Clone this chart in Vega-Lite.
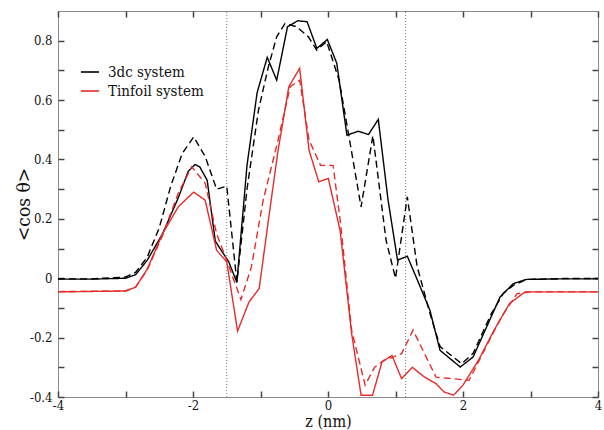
{
  "$schema": "https://vega.github.io/schema/vega-lite/v6.json",
  "width": 540,
  "height": 386,
  "autosize": "none",
  "padding": {"left": 58, "top": 11, "right": 6, "bottom": 33},
  "background": "white",
  "config": {
    "view": {"stroke": "#8a8a8a", "strokeWidth": 1},
    "font": "DejaVu Serif Condensed",
    "axis": {
      "labelFont": "DejaVu Serif Condensed",
      "titleFont": "DejaVu Serif Condensed",
      "labelFontSize": 13,
      "titleFontSize": 16,
      "titleFontWeight": "normal",
      "labelColor": "#111",
      "titleColor": "#111",
      "domain": false,
      "grid": false,
      "tickColor": "#444444",
      "tickWidth": 1.5,
      "tickSize": -6
    }
  },
  "datasets": {
    "lines": [
      {"z": -4.0, "v": -0.003, "sys": "3dc system", "kind": "solid"},
      {"z": -3.5, "v": -0.003, "sys": "3dc system", "kind": "solid"},
      {"z": -3.0, "v": 0.0, "sys": "3dc system", "kind": "solid"},
      {"z": -2.85, "v": 0.012, "sys": "3dc system", "kind": "solid"},
      {"z": -2.68, "v": 0.06, "sys": "3dc system", "kind": "solid"},
      {"z": -2.45, "v": 0.15, "sys": "3dc system", "kind": "solid"},
      {"z": -2.22, "v": 0.27, "sys": "3dc system", "kind": "solid"},
      {"z": -2.07, "v": 0.36, "sys": "3dc system", "kind": "solid"},
      {"z": -1.97, "v": 0.383, "sys": "3dc system", "kind": "solid"},
      {"z": -1.9, "v": 0.375, "sys": "3dc system", "kind": "solid"},
      {"z": -1.79, "v": 0.33, "sys": "3dc system", "kind": "solid"},
      {"z": -1.67, "v": 0.125, "sys": "3dc system", "kind": "solid"},
      {"z": -1.47, "v": 0.055, "sys": "3dc system", "kind": "solid"},
      {"z": -1.35, "v": -0.014, "sys": "3dc system", "kind": "solid"},
      {"z": -1.2, "v": 0.38, "sys": "3dc system", "kind": "solid"},
      {"z": -1.05, "v": 0.625, "sys": "3dc system", "kind": "solid"},
      {"z": -0.9, "v": 0.744, "sys": "3dc system", "kind": "solid"},
      {"z": -0.76, "v": 0.667, "sys": "3dc system", "kind": "solid"},
      {"z": -0.6, "v": 0.847, "sys": "3dc system", "kind": "solid"},
      {"z": -0.45, "v": 0.867, "sys": "3dc system", "kind": "solid"},
      {"z": -0.31, "v": 0.864, "sys": "3dc system", "kind": "solid"},
      {"z": -0.165, "v": 0.774, "sys": "3dc system", "kind": "solid"},
      {"z": -0.01, "v": 0.804, "sys": "3dc system", "kind": "solid"},
      {"z": 0.13, "v": 0.724, "sys": "3dc system", "kind": "solid"},
      {"z": 0.28, "v": 0.482, "sys": "3dc system", "kind": "solid"},
      {"z": 0.45, "v": 0.495, "sys": "3dc system", "kind": "solid"},
      {"z": 0.6, "v": 0.484, "sys": "3dc system", "kind": "solid"},
      {"z": 0.745, "v": 0.535, "sys": "3dc system", "kind": "solid"},
      {"z": 0.89, "v": 0.263, "sys": "3dc system", "kind": "solid"},
      {"z": 1.03, "v": 0.061, "sys": "3dc system", "kind": "solid"},
      {"z": 1.175, "v": 0.074, "sys": "3dc system", "kind": "solid"},
      {"z": 1.35, "v": -0.02, "sys": "3dc system", "kind": "solid"},
      {"z": 1.51, "v": -0.108, "sys": "3dc system", "kind": "solid"},
      {"z": 1.66, "v": -0.243, "sys": "3dc system", "kind": "solid"},
      {"z": 1.96, "v": -0.299, "sys": "3dc system", "kind": "solid"},
      {"z": 2.15, "v": -0.265, "sys": "3dc system", "kind": "solid"},
      {"z": 2.35, "v": -0.164, "sys": "3dc system", "kind": "solid"},
      {"z": 2.55, "v": -0.063, "sys": "3dc system", "kind": "solid"},
      {"z": 2.745, "v": -0.018, "sys": "3dc system", "kind": "solid"},
      {"z": 2.94, "v": -0.004, "sys": "3dc system", "kind": "solid"},
      {"z": 3.5, "v": -0.002, "sys": "3dc system", "kind": "solid"},
      {"z": 4.0, "v": -0.002, "sys": "3dc system", "kind": "solid"},

      {"z": -4.0, "v": -0.002, "sys": "3dc system", "kind": "dashed"},
      {"z": -3.5, "v": -0.002, "sys": "3dc system", "kind": "dashed"},
      {"z": -3.0, "v": 0.004, "sys": "3dc system", "kind": "dashed"},
      {"z": -2.85, "v": 0.02, "sys": "3dc system", "kind": "dashed"},
      {"z": -2.68, "v": 0.07, "sys": "3dc system", "kind": "dashed"},
      {"z": -2.5, "v": 0.17, "sys": "3dc system", "kind": "dashed"},
      {"z": -2.33, "v": 0.31, "sys": "3dc system", "kind": "dashed"},
      {"z": -2.16, "v": 0.42, "sys": "3dc system", "kind": "dashed"},
      {"z": -1.99, "v": 0.476, "sys": "3dc system", "kind": "dashed"},
      {"z": -1.82, "v": 0.41, "sys": "3dc system", "kind": "dashed"},
      {"z": -1.65, "v": 0.3, "sys": "3dc system", "kind": "dashed"},
      {"z": -1.5, "v": 0.31, "sys": "3dc system", "kind": "dashed"},
      {"z": -1.35, "v": -0.012, "sys": "3dc system", "kind": "dashed"},
      {"z": -1.2, "v": 0.3, "sys": "3dc system", "kind": "dashed"},
      {"z": -1.03, "v": 0.566, "sys": "3dc system", "kind": "dashed"},
      {"z": -0.884, "v": 0.712, "sys": "3dc system", "kind": "dashed"},
      {"z": -0.76, "v": 0.813, "sys": "3dc system", "kind": "dashed"},
      {"z": -0.637, "v": 0.858, "sys": "3dc system", "kind": "dashed"},
      {"z": -0.464, "v": 0.847, "sys": "3dc system", "kind": "dashed"},
      {"z": -0.29, "v": 0.813, "sys": "3dc system", "kind": "dashed"},
      {"z": -0.167, "v": 0.768, "sys": "3dc system", "kind": "dashed"},
      {"z": -0.02, "v": 0.797, "sys": "3dc system", "kind": "dashed"},
      {"z": 0.165, "v": 0.667, "sys": "3dc system", "kind": "dashed"},
      {"z": 0.32, "v": 0.465, "sys": "3dc system", "kind": "dashed"},
      {"z": 0.49, "v": 0.24, "sys": "3dc system", "kind": "dashed"},
      {"z": 0.665, "v": 0.48, "sys": "3dc system", "kind": "dashed"},
      {"z": 0.86, "v": 0.128, "sys": "3dc system", "kind": "dashed"},
      {"z": 1.0, "v": 0.0, "sys": "3dc system", "kind": "dashed"},
      {"z": 1.175, "v": 0.274, "sys": "3dc system", "kind": "dashed"},
      {"z": 1.32, "v": 0.04, "sys": "3dc system", "kind": "dashed"},
      {"z": 1.51, "v": -0.118, "sys": "3dc system", "kind": "dashed"},
      {"z": 1.66, "v": -0.23, "sys": "3dc system", "kind": "dashed"},
      {"z": 1.98, "v": -0.288, "sys": "3dc system", "kind": "dashed"},
      {"z": 2.15, "v": -0.253, "sys": "3dc system", "kind": "dashed"},
      {"z": 2.42, "v": -0.119, "sys": "3dc system", "kind": "dashed"},
      {"z": 2.6, "v": -0.05, "sys": "3dc system", "kind": "dashed"},
      {"z": 2.745, "v": -0.024, "sys": "3dc system", "kind": "dashed"},
      {"z": 2.94, "v": -0.004, "sys": "3dc system", "kind": "dashed"},
      {"z": 3.5, "v": -0.001, "sys": "3dc system", "kind": "dashed"},
      {"z": 4.0, "v": -0.001, "sys": "3dc system", "kind": "dashed"},

      {"z": -4.0, "v": -0.046, "sys": "Tinfoil system", "kind": "solid"},
      {"z": -3.0, "v": -0.043, "sys": "Tinfoil system", "kind": "solid"},
      {"z": -2.85, "v": -0.03, "sys": "Tinfoil system", "kind": "solid"},
      {"z": -2.68, "v": 0.03, "sys": "Tinfoil system", "kind": "solid"},
      {"z": -2.45, "v": 0.15, "sys": "Tinfoil system", "kind": "solid"},
      {"z": -2.22, "v": 0.24, "sys": "Tinfoil system", "kind": "solid"},
      {"z": -1.99, "v": 0.29, "sys": "Tinfoil system", "kind": "solid"},
      {"z": -1.82, "v": 0.263, "sys": "Tinfoil system", "kind": "solid"},
      {"z": -1.65, "v": 0.094, "sys": "Tinfoil system", "kind": "solid"},
      {"z": -1.5, "v": 0.055, "sys": "Tinfoil system", "kind": "solid"},
      {"z": -1.34, "v": -0.178, "sys": "Tinfoil system", "kind": "solid"},
      {"z": -1.17, "v": -0.08, "sys": "Tinfoil system", "kind": "solid"},
      {"z": -1.02, "v": -0.035, "sys": "Tinfoil system", "kind": "solid"},
      {"z": -0.88, "v": 0.2, "sys": "Tinfoil system", "kind": "solid"},
      {"z": -0.74, "v": 0.43, "sys": "Tinfoil system", "kind": "solid"},
      {"z": -0.58, "v": 0.645, "sys": "Tinfoil system", "kind": "solid"},
      {"z": -0.42, "v": 0.707, "sys": "Tinfoil system", "kind": "solid"},
      {"z": -0.28, "v": 0.43, "sys": "Tinfoil system", "kind": "solid"},
      {"z": -0.137, "v": 0.325, "sys": "Tinfoil system", "kind": "solid"},
      {"z": 0.005, "v": 0.336, "sys": "Tinfoil system", "kind": "solid"},
      {"z": 0.18, "v": 0.16, "sys": "Tinfoil system", "kind": "solid"},
      {"z": 0.35, "v": -0.186, "sys": "Tinfoil system", "kind": "solid"},
      {"z": 0.49, "v": -0.394, "sys": "Tinfoil system", "kind": "solid"},
      {"z": 0.66, "v": -0.394, "sys": "Tinfoil system", "kind": "solid"},
      {"z": 0.8, "v": -0.282, "sys": "Tinfoil system", "kind": "solid"},
      {"z": 0.947, "v": -0.26, "sys": "Tinfoil system", "kind": "solid"},
      {"z": 1.09, "v": -0.338, "sys": "Tinfoil system", "kind": "solid"},
      {"z": 1.25, "v": -0.3, "sys": "Tinfoil system", "kind": "solid"},
      {"z": 1.43, "v": -0.333, "sys": "Tinfoil system", "kind": "solid"},
      {"z": 1.6, "v": -0.355, "sys": "Tinfoil system", "kind": "solid"},
      {"z": 1.72, "v": -0.383, "sys": "Tinfoil system", "kind": "solid"},
      {"z": 1.86, "v": -0.394, "sys": "Tinfoil system", "kind": "solid"},
      {"z": 2.0, "v": -0.36, "sys": "Tinfoil system", "kind": "solid"},
      {"z": 2.23, "v": -0.276, "sys": "Tinfoil system", "kind": "solid"},
      {"z": 2.46, "v": -0.175, "sys": "Tinfoil system", "kind": "solid"},
      {"z": 2.69, "v": -0.085, "sys": "Tinfoil system", "kind": "solid"},
      {"z": 2.92, "v": -0.046, "sys": "Tinfoil system", "kind": "solid"},
      {"z": 4.0, "v": -0.046, "sys": "Tinfoil system", "kind": "solid"},

      {"z": -4.0, "v": -0.045, "sys": "Tinfoil system", "kind": "dashed"},
      {"z": -3.0, "v": -0.043, "sys": "Tinfoil system", "kind": "dashed"},
      {"z": -2.85, "v": -0.03, "sys": "Tinfoil system", "kind": "dashed"},
      {"z": -2.68, "v": 0.027, "sys": "Tinfoil system", "kind": "dashed"},
      {"z": -2.45, "v": 0.145, "sys": "Tinfoil system", "kind": "dashed"},
      {"z": -2.22, "v": 0.285, "sys": "Tinfoil system", "kind": "dashed"},
      {"z": -2.02, "v": 0.375, "sys": "Tinfoil system", "kind": "dashed"},
      {"z": -1.82, "v": 0.32, "sys": "Tinfoil system", "kind": "dashed"},
      {"z": -1.65, "v": 0.15, "sys": "Tinfoil system", "kind": "dashed"},
      {"z": -1.5, "v": 0.06, "sys": "Tinfoil system", "kind": "dashed"},
      {"z": -1.29, "v": -0.072, "sys": "Tinfoil system", "kind": "dashed"},
      {"z": -1.135, "v": 0.038, "sys": "Tinfoil system", "kind": "dashed"},
      {"z": -0.96, "v": 0.263, "sys": "Tinfoil system", "kind": "dashed"},
      {"z": -0.74, "v": 0.465, "sys": "Tinfoil system", "kind": "dashed"},
      {"z": -0.56, "v": 0.645, "sys": "Tinfoil system", "kind": "dashed"},
      {"z": -0.42, "v": 0.667, "sys": "Tinfoil system", "kind": "dashed"},
      {"z": -0.28, "v": 0.465, "sys": "Tinfoil system", "kind": "dashed"},
      {"z": -0.11, "v": 0.38, "sys": "Tinfoil system", "kind": "dashed"},
      {"z": 0.075, "v": 0.38, "sys": "Tinfoil system", "kind": "dashed"},
      {"z": 0.18, "v": 0.196, "sys": "Tinfoil system", "kind": "dashed"},
      {"z": 0.35, "v": -0.175, "sys": "Tinfoil system", "kind": "dashed"},
      {"z": 0.55, "v": -0.36, "sys": "Tinfoil system", "kind": "dashed"},
      {"z": 0.69, "v": -0.3, "sys": "Tinfoil system", "kind": "dashed"},
      {"z": 0.83, "v": -0.276, "sys": "Tinfoil system", "kind": "dashed"},
      {"z": 0.976, "v": -0.265, "sys": "Tinfoil system", "kind": "dashed"},
      {"z": 1.09, "v": -0.254, "sys": "Tinfoil system", "kind": "dashed"},
      {"z": 1.26, "v": -0.175, "sys": "Tinfoil system", "kind": "dashed"},
      {"z": 1.43, "v": -0.254, "sys": "Tinfoil system", "kind": "dashed"},
      {"z": 1.6, "v": -0.333, "sys": "Tinfoil system", "kind": "dashed"},
      {"z": 1.83, "v": -0.338, "sys": "Tinfoil system", "kind": "dashed"},
      {"z": 2.09, "v": -0.344, "sys": "Tinfoil system", "kind": "dashed"},
      {"z": 2.29, "v": -0.254, "sys": "Tinfoil system", "kind": "dashed"},
      {"z": 2.57, "v": -0.13, "sys": "Tinfoil system", "kind": "dashed"},
      {"z": 2.8, "v": -0.052, "sys": "Tinfoil system", "kind": "dashed"},
      {"z": 3.0, "v": -0.046, "sys": "Tinfoil system", "kind": "dashed"},
      {"z": 4.0, "v": -0.046, "sys": "Tinfoil system", "kind": "dashed"}
    ],
    "rules": [
      {"z": -1.5},
      {"z": 1.15}
    ]
  },
  "layer": [
    {
      "data": {"name": "rules"},
      "mark": {"type": "rule", "color": "#777", "strokeWidth": 1, "strokeDash": [1, 2]},
      "encoding": {
        "x": {
          "field": "z", "type": "quantitative",
          "scale": {"domain": [-4, 4], "nice": false, "zero": false},
          "axis": {
            "orient": "top", "title": null, "labels": false, "tickSize": -6,
            "values": [-4, -3, -2, -1, 0, 1, 2, 3, 4]
          }
        },
        "y": {
          "datum": -0.4, "type": "quantitative",
          "scale": {"domain": [-0.4, 0.9], "nice": false, "zero": false},
          "axis": {
            "orient": "right", "title": null, "labels": false, "tickSize": -6,
            "values": [-0.4, -0.3, -0.2, -0.1, 0, 0.1, 0.2, 0.3, 0.4, 0.5, 0.6, 0.7, 0.8]
          }
        },
        "y2": {"datum": 0.9}
      }
    },
    {
      "data": {"name": "lines"},
      "mark": {"type": "line", "strokeWidth": 1.4},
      "encoding": {
        "x": {
          "field": "z", "type": "quantitative",
          "scale": {"domain": [-4, 4], "nice": false, "zero": false},
          "axis": {
            "orient": "bottom", "title": "z (nm)", "titlePadding": 1,
            "labelPadding": 8, "tickSize": -6,
            "values": [-4, -3, -2, -1, 0, 1, 2, 3, 4],
            "labelExpr": "round(datum.value) % 2 === 0 ? '' + datum.value : ''",
            "labelFlush": false
          }
        },
        "y": {
          "field": "v", "type": "quantitative",
          "scale": {"domain": [-0.4, 0.9], "nice": false, "zero": false},
          "axis": {
            "orient": "left", "title": "<cos θ>", "titlePadding": -4, "titleFontSize": 19,
            "labelPadding": 12, "tickSize": -6,
            "values": [-0.4, -0.3, -0.2, -0.1, 0, 0.1, 0.2, 0.3, 0.4, 0.5, 0.6, 0.7, 0.8],
            "labelExpr": "round(datum.value * 10) % 2 === 0 ? '' + datum.value : ''",
            "labelFlush": false
          }
        },
        "color": {
          "field": "sys", "type": "nominal",
          "scale": {"domain": ["3dc system", "Tinfoil system"], "range": ["#000000", "#e62b2b"]},
          "legend": {
            "orient": "none", "legendX": 22, "legendY": 51,
            "title": null, "symbolType": "stroke", "symbolSize": 330,
            "symbolStrokeWidth": 1.6, "labelFont": "DejaVu Serif Condensed",
            "labelFontSize": 15, "labelColor": "#111", "rowPadding": 1,
            "labelOffset": 8, "padding": 0
          }
        },
        "strokeDash": {
          "field": "kind", "type": "nominal",
          "scale": {"domain": ["solid", "dashed"], "range": [[1, 0], [7, 4]]},
          "legend": null
        }
      }
    }
  ],
  "resolve": {"axis": {"x": "independent", "y": "independent"}}
}
